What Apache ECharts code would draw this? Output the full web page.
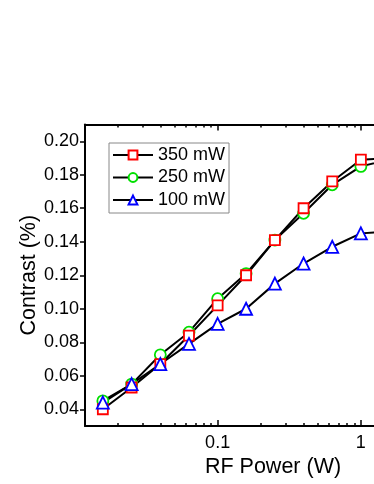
<!DOCTYPE html>
<html>
<head>
<meta charset="utf-8">
<script src="https://cdn.jsdelivr.net/npm/echarts@6/dist/echarts.min.js"></script>
<style>
  html, body { margin: 0; padding: 0; background: #fff; }
  #main { width: 374px; height: 484px; }
</style>
</head>
<body>
<div id="main"></div>
<script>
// RF power (W)
var power = [0.0158, 0.0251, 0.0398, 0.0631, 0.1, 0.158, 0.251, 0.398, 0.631, 1.0, 1.585];
var c350 = [0.040, 0.053, 0.067, 0.084, 0.102, 0.120, 0.141, 0.160, 0.176, 0.189, 0.190];
var c250 = [0.045, 0.055, 0.0725, 0.086, 0.106, 0.121, 0.141, 0.157, 0.174, 0.185, 0.189];
var c100 = [0.044, 0.055, 0.067, 0.079, 0.091, 0.100, 0.115, 0.127, 0.137, 0.145, 0.146];
var yTicks = [0.04, 0.06, 0.08, 0.10, 0.12, 0.14, 0.16, 0.18, 0.20];
var xMajor = [0.1, 1];
var xMinor = [0.02, 0.03, 0.04, 0.05, 0.06, 0.07, 0.08, 0.09,
              0.2, 0.3, 0.4, 0.5, 0.6, 0.7, 0.8, 0.9, 2, 3, 4, 5];

var font = 'Liberation Sans, Arial, sans-serif';
var lg = function (v) { return Math.log10(v); };

function pts(ys) {
  return power.map(function (p, i) { return [lg(p), ys[i]]; });
}

function mkSeries(name, ys, symbol, size, color) {
  return {
    name: name,
    type: 'line',
    data: pts(ys),
    symbol: symbol,
    symbolSize: size,
    showAllSymbol: true,
    lineStyle: { color: '#000', width: 2 },
    itemStyle: { color: '#fff', borderColor: color, borderWidth: 1.8 },
    emphasis: { disabled: true }
  };
}

var xMin = lg(0.01186), xMax = lg(5);

function xAx(pos, ticks, len, labels, line) {
  return {
    type: 'value',
    position: pos,
    min: xMin,
    max: xMax,
    axisLine: { show: line, onZero: false, lineStyle: { color: '#000', width: 2 } },
    axisTick: { show: true, inside: true, length: len, customValues: ticks.map(lg),
                lineStyle: { color: '#000', width: 1.5 } },
    axisLabel: labels ? {
      show: true, customValues: ticks.map(lg), margin: 8,
      color: '#000', fontSize: 18, fontFamily: font,
      formatter: function (v) { return String(+Math.pow(10, v).toPrecision(3)); }
    } : { show: false },
    splitLine: { show: false }
  };
}

var bottomMain = xAx('bottom', xMajor, 6, true, true);
bottomMain.name = 'RF Power (W)';
bottomMain.nameLocation = 'middle';
bottomMain.nameGap = 30;
bottomMain.nameMoveOverlap = false;
bottomMain.nameTextStyle = { color: '#000', fontSize: 21.5, fontFamily: font };

var chart = echarts.init(document.getElementById('main'));
chart.setOption({
  animation: false,
  backgroundColor: '#fff',
  grid: { left: 85, top: 124.5, right: -87, bottom: 58, containLabel: false, outerBoundsMode: 'none' },
  legend: {
    orient: 'vertical',
    left: 109,
    top: 143,
    padding: [3, 4, 4, 3],
    itemWidth: 40,
    itemHeight: 11,
    itemGap: 4.5,
    borderColor: '#888',
    borderWidth: 1,
    data: ['350 mW', '250 mW', '100 mW'],
    textStyle: { color: '#000', fontSize: 18, lineHeight: 18, fontFamily: font }
  },
  xAxis: [
    bottomMain,
    xAx('bottom', xMinor, 3, false, false),
    xAx('top', xMajor, 6, false, true),
    xAx('top', xMinor, 3, false, false)
  ],
  yAxis: {
    type: 'value',
    min: 0.03,
    max: 0.21,
    name: 'Contrast (%)',
    nameLocation: 'middle',
    nameGap: 45,
    nameMoveOverlap: false,
    nameTextStyle: { color: '#000', fontSize: 21.5, fontFamily: font },
    axisLine: { show: true, onZero: false, lineStyle: { color: '#000', width: 2 } },
    axisTick: { show: true, inside: false, length: 5, customValues: yTicks,
                lineStyle: { color: '#000', width: 1.5 } },
    axisLabel: { customValues: yTicks, margin: 6, color: '#000', fontSize: 18, fontFamily: font,
                 formatter: function (v) { return v.toFixed(2); } },
    splitLine: { show: false }
  },
  series: [
    mkSeries('250 mW', c250, 'circle', 11, '#00e000'),
    mkSeries('350 mW', c350, 'rect', 10, '#ff0000'),
    mkSeries('100 mW', c100, 'triangle', 12, '#0000ff')
  ]
});
</script>
</body>
</html>
